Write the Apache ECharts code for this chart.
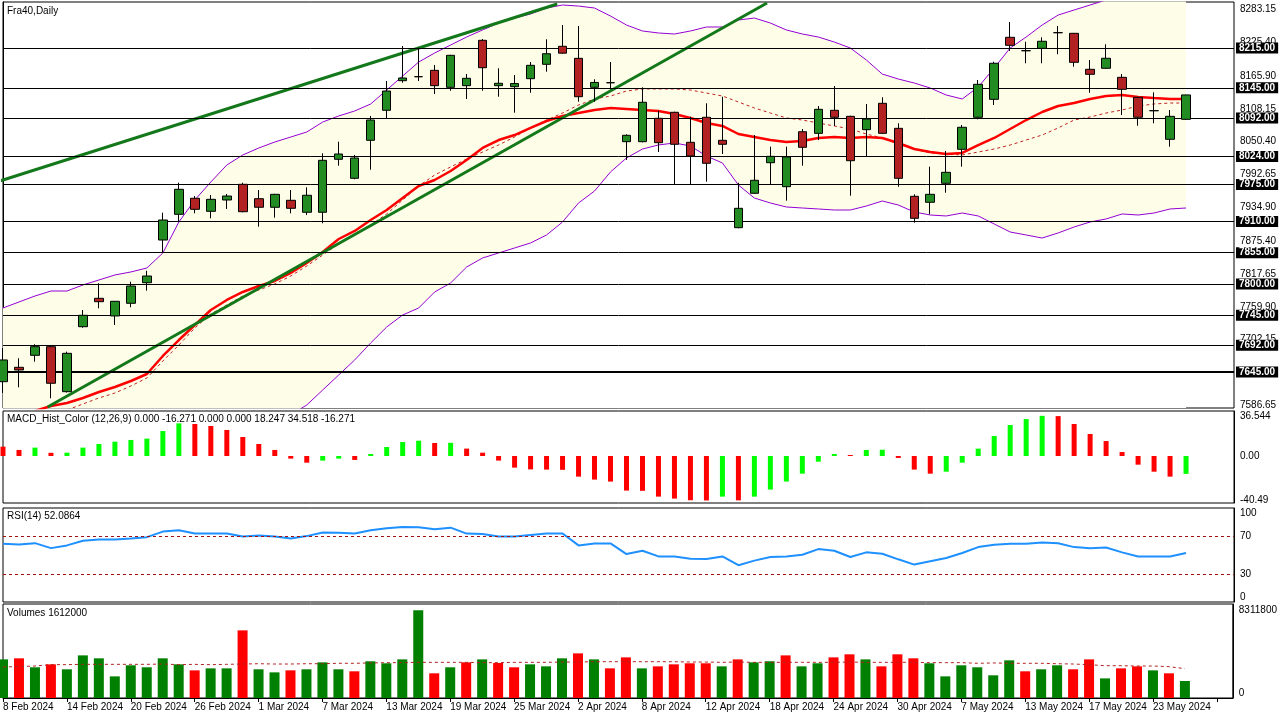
<!DOCTYPE html>
<html lang="en">
<head>
    <meta charset="UTF-8">
    <title>Fra40 Daily</title>
    <script src="https://cdn.jsdelivr.net/npm/echarts/dist/echarts.min.js"></script>
    <style>
        body { margin: 0; background: #fff; }
        #main { width: 1280px; height: 720px; }
    </style>
</head>
<body>
<div id="main"></div>
<script type="text/javascript">
    // trading days shown on the chart
    var dates = ['8 Feb 2024', '9 Feb 2024', '12 Feb 2024', '13 Feb 2024', '14 Feb 2024', '15 Feb 2024', '16 Feb 2024',
        '19 Feb 2024', '20 Feb 2024', '21 Feb 2024', '22 Feb 2024', '23 Feb 2024', '26 Feb 2024', '27 Feb 2024',
        '28 Feb 2024', '29 Feb 2024', '1 Mar 2024', '4 Mar 2024', '5 Mar 2024', '6 Mar 2024', '7 Mar 2024',
        '8 Mar 2024', '11 Mar 2024', '12 Mar 2024', '13 Mar 2024', '14 Mar 2024', '15 Mar 2024', '18 Mar 2024',
        '19 Mar 2024', '20 Mar 2024', '21 Mar 2024', '22 Mar 2024', '25 Mar 2024', '26 Mar 2024', '27 Mar 2024',
        '28 Mar 2024', '2 Apr 2024', '3 Apr 2024', '4 Apr 2024', '5 Apr 2024', '8 Apr 2024', '9 Apr 2024',
        '10 Apr 2024', '11 Apr 2024', '12 Apr 2024', '15 Apr 2024', '16 Apr 2024', '17 Apr 2024', '18 Apr 2024',
        '19 Apr 2024', '22 Apr 2024', '23 Apr 2024', '24 Apr 2024', '25 Apr 2024', '26 Apr 2024', '29 Apr 2024',
        '30 Apr 2024', '2 May 2024', '3 May 2024', '6 May 2024', '7 May 2024', '8 May 2024', '9 May 2024',
        '10 May 2024', '13 May 2024', '14 May 2024', '15 May 2024', '16 May 2024', '17 May 2024', '20 May 2024',
        '21 May 2024', '22 May 2024', '23 May 2024', '24 May 2024', '27 May 2024'];

    var opens = [7628.1, 7653.4, 7674.5, 7689.7, 7610.5, 7724.8, 7774.8, 7743.7, 7766.0, 7802.2,
        7877.3, 7922.5, 7950.7, 7927.8, 7947.7, 7975.3, 7950.0, 7934.9, 7947.2, 7926.1,
        7926.1, 8019.3, 7985.9, 8052.7, 8105.5, 8157.6, 8164.6, 8175.8, 8145.9, 8148.8,
        8228.6, 8148.8, 8147.0, 8161.1, 8186.4, 8218.1, 8196.9, 8145.9, 8154.0, 8050.3,
        8050.3, 8091.4, 8102.0, 8049.2, 8093.2, 8052.7, 7899.0, 7959.5, 8013.3, 7971.1,
        8067.8, 8065.0, 8105.5, 8094.9, 8071.4, 8117.8, 8073.8, 7954.2, 7943.7, 7977.1,
        8036.9, 8093.2, 8124.8, 8233.9, 8210.3, 8214.5, 8242.0, 8240.9, 8177.6, 8179.4,
        8163.5, 8128.4, 8104.8, 8054.5, 8089.6];
    var closes = [7666.3, 7648.7, 7689.7, 7625.3, 7678.0, 7744.9, 7768.8, 7769.5, 7796.4, 7814.0,
        7912.5, 7966.5, 7931.3, 7948.9, 7954.7, 7927.1, 7934.9, 7957.7, 7933.1, 7956.0,
        8017.5, 8028.6, 8021.6, 8088.4, 8139.4, 8162.3, 8164.6, 8148.8, 8202.2, 8161.8,
        8180.4, 8153.0, 8152.5, 8184.6, 8205.0, 8206.0, 8129.4, 8154.5, 8154.0, 8061.5,
        8119.6, 8048.5, 8045.7, 8025.1, 8012.3, 8045.7, 7933.1, 7982.4, 8024.5, 8023.5,
        8040.4, 8107.2, 8093.2, 8016.8, 8090.2, 8065.0, 7985.9, 7915.5, 7957.7, 7996.4,
        8075.6, 8151.2, 8188.2, 8219.8, 8210.3, 8226.9, 8242.0, 8189.9, 8168.8, 8197.0,
        8142.4, 8093.2, 8104.8, 8094.9, 8132.49];
    var highs = [7687.4, 7669.3, 7693.9, 7692.7, 7680.9, 7754.2, 7801.2, 7770.0, 7804.0, 7823.3,
        7925.4, 7978.1, 7954.7, 7956.5, 7958.3, 7978.1, 7965.3, 7958.5, 7965.3, 7970.0,
        8029.8, 8050.3, 8026.9, 8095.5, 8157.0, 8218.6, 8215.6, 8185.2, 8203.0, 8169.3,
        8230.9, 8179.4, 8167.6, 8190.4, 8230.4, 8255.5, 8253.8, 8160.0, 8190.4, 8063.3,
        8145.9, 8104.3, 8103.0, 8094.2, 8117.8, 8129.4, 7978.1, 8062.0, 8041.5, 8041.5,
        8072.6, 8113.0, 8148.2, 8096.0, 8116.6, 8128.4, 8082.6, 7957.7, 8006.3, 8033.9,
        8079.6, 8158.8, 8191.0, 8260.8, 8226.1, 8233.9, 8253.8, 8241.5, 8194.0, 8221.6,
        8169.3, 8129.0, 8137.1, 8106.0, 8133.0];
    var lows = [7608.2, 7618.2, 7663.3, 7598.9, 7609.0, 7723.0, 7757.2, 7727.8, 7759.0, 7788.2,
        7855.7, 7909.5, 7924.3, 7915.5, 7931.9, 7926.0, 7900.7, 7916.6, 7924.3, 7921.3,
        7906.7, 8008.0, 7984.1, 8001.0, 8091.4, 8154.0, 8157.0, 8134.2, 8140.0, 8125.4,
        8140.0, 8129.4, 8101.3, 8136.4, 8173.4, 8205.0, 8120.6, 8120.6, 8142.4, 8018.1,
        8049.0, 8032.1, 7975.3, 7975.3, 7979.9, 8028.6, 7898.0, 7958.5, 7975.3, 7946.5,
        8008.0, 8053.2, 8077.9, 7955.3, 8025.1, 8064.0, 7971.1, 7907.8, 7922.5, 7960.5,
        8006.3, 8089.6, 8114.8, 8209.8, 8188.2, 8188.2, 8204.0, 8182.2, 8136.4, 8178.5,
        8097.2, 8078.4, 8082.6, 8041.5, 8088.5];

    // bollinger bands (upper / lower / middle) and the red moving average
    var bandUpper = [7757.7, 7768.3, 7778.8, 7787.6, 7787.6, 7798.2, 7807.0, 7815.8, 7821.1, 7828.1,
        7854.5, 7909.0, 7947.7, 7979.4, 8009.3, 8026.9, 8039.2, 8049.7, 8058.5, 8067.3,
        8084.9, 8095.5, 8104.3, 8116.6, 8141.2, 8165.8, 8190.4, 8206.3, 8220.3, 8234.4,
        8246.8, 8259.0, 8267.8, 8274.9, 8285.4, 8290.7, 8288.9, 8285.4, 8271.3, 8255.5,
        8245.0, 8241.5, 8239.7, 8245.0, 8252.0, 8252.0, 8264.3, 8267.8, 8259.0, 8246.8,
        8239.7, 8234.4, 8225.6, 8215.1, 8194.0, 8169.3, 8160.5, 8153.5, 8144.7, 8132.4,
        8125.4, 8146.5, 8179.9, 8215.1, 8234.4, 8255.5, 8273.1, 8281.9, 8290.7, 8299.5,
        8304.8, 8308.3, 8311.8, 8313.6, 8315.3];
    var bandLower = [7346.1, 7349.6, 7349.6, 7354.9, 7369.0, 7379.5, 7391.9, 7400.7, 7420.0, 7441.1,
        7474.5, 7476.3, 7497.4, 7515.0, 7516.8, 7530.8, 7539.6, 7550.2, 7569.5, 7587.1,
        7613.5, 7639.9, 7666.3, 7696.2, 7724.3, 7745.4, 7757.7, 7785.9, 7801.7, 7829.8,
        7845.7, 7854.5, 7863.3, 7872.1, 7886.1, 7909.0, 7942.4, 7963.5, 7997.0, 8021.6,
        8037.4, 8044.5, 8048.0, 8042.7, 8025.1, 8012.8, 7974.1, 7951.2, 7942.4, 7935.4,
        7933.6, 7931.9, 7930.1, 7930.1, 7937.1, 7945.9, 7938.9, 7926.6, 7921.3, 7919.6,
        7924.8, 7919.6, 7905.5, 7891.4, 7886.1, 7880.8, 7889.7, 7900.2, 7909.0, 7914.3,
        7923.1, 7921.3, 7924.8, 7931.9, 7933.6];
    var bandMid = [7552.0, 7559.0, 7564.0, 7571.0, 7578.3, 7588.9, 7599.4, 7608.2, 7620.5, 7634.6,
        7664.5, 7692.6, 7722.6, 7747.2, 7763.0, 7778.8, 7789.4, 7800.0, 7814.0, 7831.6,
        7851.0, 7870.3, 7887.9, 7903.7, 7923.1, 7947.7, 7972.3, 7991.7, 8005.8, 8019.8,
        8032.1, 8044.5, 8058.5, 8074.4, 8088.4, 8100.7, 8114.8, 8125.4, 8130.6, 8139.4,
        8143.0, 8143.0, 8143.0, 8141.2, 8135.9, 8130.6, 8120.1, 8109.5, 8100.7, 8092.0,
        8088.4, 8083.2, 8077.9, 8072.6, 8063.8, 8056.8, 8046.2, 8037.4, 8030.4, 8028.6,
        8026.9, 8032.1, 8037.4, 8044.4, 8053.2, 8062.0, 8074.4, 8088.4, 8093.7, 8100.7,
        8106.0, 8113.0, 8116.6, 8118.3, 8118.3];
    var maRed = [7560.7, 7567.8, 7576.5, 7585.3, 7590.6, 7599.4, 7610.0, 7618.8, 7629.3, 7641.6,
        7673.3, 7701.4, 7727.8, 7754.2, 7771.8, 7785.9, 7796.4, 7805.2, 7819.3, 7836.9,
        7856.2, 7879.1, 7893.2, 7912.5, 7930.1, 7951.2, 7972.3, 7982.9, 7998.7, 8018.1,
        8039.2, 8053.2, 8062.0, 8074.4, 8086.7, 8095.5, 8100.7, 8106.0, 8109.5, 8107.8,
        8106.0, 8104.3, 8099.0, 8092.0, 8083.2, 8077.9, 8063.8, 8058.5, 8053.2, 8049.7,
        8051.5, 8056.8, 8058.5, 8056.8, 8058.5, 8056.8, 8048.0, 8037.4, 8032.1, 8028.6,
        8030.4, 8044.4, 8056.8, 8072.6, 8088.4, 8102.5, 8113.0, 8118.3, 8125.4, 8130.6,
        8132.4, 8128.9, 8127.1, 8125.4, 8125.4];

    // trend lines: [bar index, price] end points
    var trendA = [[-0.21, 7981.1], [34.67, 8292.5]];
    var trendB = [[2.79, 7583.6], [47.79, 8294.2]];

    var levels = [8215, 8145, 8092, 8024, 7975, 7910, 7855, 7800, 7745, 7692, 7645];
    var lastPrice = 8132.49;
    var priceTicks = [7586.65, 7644.40, 7702.15, 7759.90, 7817.65, 7875.40, 7934.90, 7992.65,
        8050.40, 8108.15, 8165.90, 8225.40, 8283.15];

    var macdHist = [8.5, 5.5, 7.6, 2.9, 3.0, 7.6, 10.9, 13.0, 14.6, 15.8,
        22.7, 29.7, 29.1, 27.3, 23.7, 17.3, 10.9, 5.5, -2.4, -6.1,
        -4.2, -2.4, -3.6, 1.8, 8.2, 12.7, 13.9, 11.8, 12.0, 6.7,
        3.0, -4.2, -10.6, -12.2, -12.4, -12.6, -18.8, -21.5, -23.3, -31.5,
        -31.7, -37.0, -38.8, -40.3, -40.49, -37.0, -40.4, -37.0, -30.6, -23.3,
        -16.1, -5.2, 1.8, 0.9, 5.5, 5.7, -1.8, -12.4, -16.1, -14.3,
        -6.1, 6.7, 18.2, 28.2, 33.6, 36.544, 36.3, 29.1, 20.0, 13.6,
        3.6, -7.9, -14.3, -18.8, -16.271];
    var macdTicks = [-40.49, 0, 36.544];

    var rsi = [61.9, 61.2, 62.6, 57.3, 60.2, 65.1, 66.5, 66.5, 67.5, 69.0,
        74.9, 76.3, 72.8, 72.8, 72.8, 69.7, 70.7, 69.7, 67.5, 70.1,
        74.0, 73.6, 72.8, 76.3, 78.5, 79.8, 79.5, 77.3, 79.1, 72.8,
        72.4, 69.7, 69.7, 71.4, 72.8, 72.8, 60.2, 62.3, 62.3, 51.0,
        54.5, 48.5, 48.5, 46.1, 45.7, 48.5, 39.1, 44.0, 47.9, 48.5,
        50.3, 56.3, 54.5, 47.9, 52.8, 51.4, 45.4, 39.8, 43.3, 46.8,
        52.1, 58.4, 60.9, 61.9, 61.9, 63.4, 62.6, 58.4, 57.3, 58.0,
        52.8, 48.5, 48.5, 48.5, 52.09];
    var rsiLevels = [70, 30];
    var rsiTicks = [0, 30, 70, 100];

    var volumes = [3660000, 3760000, 2910000, 3190000, 2720000, 4040000, 3760000, 2050000, 3100000, 2910000,
        3760000, 3190000, 2620000, 2810000, 2810000, 6410000, 2720000, 2430000, 2620000, 2720000,
        3380000, 2720000, 2530000, 3480000, 3290000, 3660000, 8311800, 2340000, 2910000, 3380000,
        3660000, 3320000, 2910000, 3190000, 3000000, 3760000, 4230000, 3660000, 2810000, 3850000,
        2810000, 3000000, 3190000, 3290000, 3290000, 3000000, 3660000, 3380000, 3480000, 4040000,
        3000000, 3290000, 3850000, 4140000, 3660000, 3000000, 4140000, 3760000, 3290000, 2050000,
        3100000, 2910000, 2150000, 3570000, 2530000, 2720000, 3100000, 2720000, 3660000, 1860000,
        2810000, 3000000, 2620000, 2340000, 1612000];
    var volumeMa = [2940000, 2980000, 3030000, 3160000, 3160000, 3190000, 3190000, 3190000, 3190000, 3190000,
        3220000, 3160000, 3190000, 3160000, 3190000, 3220000, 3250000, 3220000, 3220000, 3250000,
        3250000, 3290000, 3290000, 3320000, 3350000, 3350000, 3380000, 3380000, 3380000, 3380000,
        3350000, 3350000, 3380000, 3380000, 3380000, 3410000, 3410000, 3440000, 3440000, 3440000,
        3440000, 3440000, 3440000, 3410000, 3410000, 3380000, 3410000, 3380000, 3380000, 3380000,
        3380000, 3380000, 3380000, 3410000, 3380000, 3380000, 3380000, 3380000, 3350000, 3350000,
        3350000, 3290000, 3320000, 3290000, 3290000, 3290000, 3250000, 3220000, 3160000, 3060000,
        3060000, 3030000, 3030000, 2970000, 2780000];
    var volumeTicks = [0, 8311800];

    var FONT = 'Liberation Sans, Arial, sans-serif';
    var cats = dates.concat(['', '', '']);   // empty slots on the right side

    var candleData = opens.map(function (o, i) {
        return [o, closes[i], lows[i], highs[i]];
    });
    var macdData = macdHist.map(function (v, i) {
        var up = i > 0 && v > macdHist[i - 1];
        return {value: v, itemStyle: {color: up ? '#00ff00' : '#ff0000'}};
    });
    var volumeData = volumes.map(function (v, i) {
        var up = i === 0 ? closes[0] > opens[0] : closes[i] > closes[i - 1];
        return {value: v, itemStyle: {color: up ? '#008000' : '#ff0000'}};
    });

    function grid(top, height) {
        return {left: 3, top: top, width: 1231, height: height, show: true,
            borderColor: '#000', borderWidth: 1, backgroundColor: '#fff'};
    }

    function catAxis(gi, withLabels) {
        return {
            type: 'category', gridIndex: gi, data: cats, boundaryGap: false,
            axisLine: {show: withLabels, lineStyle: {color: '#000'}},
            axisTick: {show: withLabels, interval: 3, length: 4, lineStyle: {color: '#000'}},
            axisLabel: {show: withLabels, interval: 3, align: 'left', margin: 4,
                color: '#000', fontSize: 10, fontFamily: FONT},
            splitLine: {show: false}
        };
    }

    function valAxis(gi, min, max, ticks, fmt, extra) {
        var axis = {
            type: 'value', gridIndex: gi, position: 'right', min: min, max: max,
            splitLine: {show: false},
            axisLine: {show: true, lineStyle: {color: '#000'}},
            axisTick: {show: false},
            axisLabel: {customValues: ticks, formatter: fmt, margin: 6, color: '#000',
                fontSize: 10, fontFamily: FONT}
        };
        if (extra) {
            Object.keys(extra).forEach(function (k) { axis.axisLabel[k] = extra[k]; });
        }
        return axis;
    }

    function titleAt(text, top) {
        return {text: text, left: 7, top: top, padding: 0,
            textStyle: {fontSize: 10, fontWeight: 'normal', color: '#000', fontFamily: FONT}};
    }

    var levelMarks = levels.map(function (v) {
        return {yAxis: v, lineStyle: {width: v === 7645 ? 2 : 1}};
    });
    levelMarks.push({yAxis: lastPrice, lineStyle: {opacity: 0}});

    var option = {
        animation: false,
        backgroundColor: '#fff',
        title: [
            titleAt('Fra40,Daily', 6),
            titleAt('MACD_Hist_Color (12,26,9) 0.000 -16.271 0.000 0.000 18.247 34.518 -16.271', 414),
            titleAt('RSI(14) 52.0864', 511),
            titleAt('Volumes 1612000', 608)
        ],
        grid: [grid(2, 406), grid(411, 92), grid(508, 94), grid(604, 94)],
        xAxis: [
            catAxis(0, false), catAxis(1, false), catAxis(2, false), catAxis(3, true),
            {type: 'value', gridIndex: 0, min: 0, max: 77, show: false}
        ],
        yAxis: [
            valAxis(0, 7581.8, 8296.0, priceTicks, function (v) { return v.toFixed(2); }),
            valAxis(1, -42.8, 40.95, macdTicks, function (v) { return v === 0 ? '0.00' : String(v); }),
            valAxis(2, 0, 100, rsiTicks, function (v) { return String(v); },
                {verticalAlignMinLabel: 'bottom', verticalAlignMaxLabel: 'top'}),
            valAxis(3, 0, 8909000, volumeTicks, function (v) { return String(v); },
                {verticalAlignMinLabel: 'bottom'})
        ],
        series: [
            {
                name: 'BB upper', type: 'line', data: bandUpper, symbol: 'none', silent: true, z: 1,
                lineStyle: {color: '#9400d3', width: 1},
                areaStyle: {color: '#fefee8', opacity: 1, origin: 'start'}
            },
            {
                name: 'BB lower', type: 'line', data: bandLower, symbol: 'none', silent: true, z: 1,
                lineStyle: {color: '#9400d3', width: 1},
                areaStyle: {color: '#ffffff', opacity: 1, origin: 'start'}
            },
            {
                name: 'BB mid', type: 'line', data: bandMid, symbol: 'none', silent: true, z: 2,
                lineStyle: {color: '#c02020', width: 1, type: [3, 3]},
                markLine: {
                    silent: true, symbol: 'none',
                    lineStyle: {color: '#000', type: 'solid'},
                    label: {
                        show: true, position: 'end', distance: 2,
                        formatter: function (p) { return p.value.toFixed(2); },
                        backgroundColor: '#000', color: '#fff', padding: [1, 3, 0, 3],
                        fontSize: 10, fontWeight: 'bold', fontFamily: FONT
                    },
                    data: levelMarks
                }
            },
            {
                name: 'MA', type: 'line', data: maRed, symbol: 'none', silent: true, z: 3,
                lineStyle: {color: '#ff0000', width: 2.5}
            },
            {
                name: 'Trend A', type: 'line', xAxisIndex: 4, yAxisIndex: 0, data: trendA,
                symbol: 'none', silent: true, z: 3, lineStyle: {color: '#12781a', width: 3}
            },
            {
                name: 'Trend B', type: 'line', xAxisIndex: 4, yAxisIndex: 0, data: trendB,
                symbol: 'none', silent: true, z: 3, lineStyle: {color: '#12781a', width: 3}
            },
            {
                name: 'Fra40', type: 'candlestick', data: candleData, barWidth: 9, z: 5,
                itemStyle: {
                    color: '#228b22', color0: '#b22222',
                    borderColor: '#000', borderColor0: '#000', borderColorDoji: '#000', borderWidth: 1
                }
            },
            {
                name: 'MACD', type: 'bar', xAxisIndex: 1, yAxisIndex: 1, data: macdData, barWidth: 5
            },
            {
                name: 'RSI', type: 'line', xAxisIndex: 2, yAxisIndex: 2, data: rsi, symbol: 'none',
                lineStyle: {color: '#1e90ff', width: 2},
                markLine: {
                    silent: true, symbol: 'none', label: {show: false},
                    lineStyle: {color: '#a01010', width: 1, type: [3, 3]},
                    data: rsiLevels.map(function (v) { return {yAxis: v}; })
                }
            },
            {
                name: 'Volumes', type: 'bar', xAxisIndex: 3, yAxisIndex: 3, data: volumeData, barWidth: 10
            },
            {
                name: 'Volume MA', type: 'line', xAxisIndex: 3, yAxisIndex: 3, data: volumeMa,
                symbol: 'none', z: 3, lineStyle: {color: '#b22222', width: 1, type: [3, 3]}
            }
        ]
    };

    var myChart = echarts.init(document.getElementById('main'));
    myChart.setOption(option);
</script>
</body>
</html>
